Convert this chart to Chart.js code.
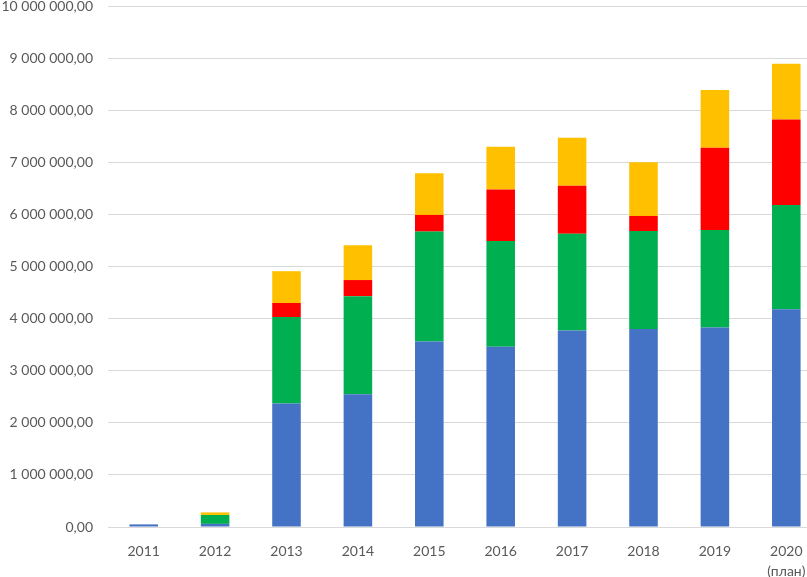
<!DOCTYPE html>
<html>
<head>
<meta charset="utf-8">
<script src="https://cdn.jsdelivr.net/npm/chart.js@4.4.1/dist/chart.umd.min.js"></script>
<style>
html,body{margin:0;padding:0;background:#fff;overflow:hidden;width:807px;height:577px;}
canvas{display:block;}
</style>
</head>
<body>
<canvas id="c" width="822" height="577"></canvas>
<script>
const years = ['2011','2012','2013','2014','2015','2016','2017','2018','2019',['2020','(план)']];
const seriesBlue   = [50000, 60000, 2370000, 2550000, 3560000, 3460000, 3770000, 3800000, 3830000, 4180000];
const seriesGreen  = [0, 170000, 1660000, 1880000, 2110000, 2030000, 1860000, 1880000, 1870000, 2000000];
const seriesRed    = [0, 0, 270000, 310000, 320000, 990000, 920000, 290000, 1580000, 1640000];
const seriesYellow = [0, 50000, 610000, 670000, 800000, 820000, 920000, 1030000, 1110000, 1070000];
const yTickLabels = ['0,00','1 000 000,00','2 000 000,00','3 000 000,00','4 000 000,00','5 000 000,00','6 000 000,00','7 000 000,00','8 000 000,00','9 000 000,00','10 000 000,00'];

const ds = (data, color) => ({data, backgroundColor: color, borderWidth: 0, categoryPercentage: 1, barPercentage: 0.4});
const noPad = s => { s.paddingTop = 0; s.paddingBottom = 0; s.paddingLeft = 0; s.paddingRight = 0; };

new Chart(document.getElementById('c'), {
  type: 'bar',
  data: {
    labels: years,
    datasets: [
      ds(seriesBlue, '#4472C4'),
      ds(seriesGreen, '#00B050'),
      ds(seriesRed, '#FF0000'),
      ds(seriesYellow, '#FFC000')
    ]
  },
  options: {
    responsive: false,
    devicePixelRatio: 1,
    animation: false,
    layout: {autoPadding: false, padding: {top: 6, left: 0, right: 0, bottom: 0}},
    plugins: {legend: {display: false}, tooltip: {enabled: false}},
    scales: {
      x: {
        stacked: true,
        grid: {display: false},
        border: {display: false},
        ticks: {color: '#595959', font: {family: 'Lato', size: 14, lineHeight: 1.43}, padding: 6, maxRotation: 0, autoSkip: false},
        afterFit: s => { s.height = 50; noPad(s); }
      },
      y: {
        stacked: true,
        min: 0, max: 10000000,
        grid: {color: '#d9d9d9', lineWidth: 1, drawTicks: false},
        border: {display: false},
        ticks: {
          stepSize: 1000000,
          color: '#595959',
          font: {family: 'Lato', size: 14},
          padding: 15,
          callback: (v) => yTickLabels[Math.round(v / 1000000)]
        },
        afterFit: s => { s.width = 108; noPad(s); }
      }
    }
  }
});
</script>
</body>
</html>
